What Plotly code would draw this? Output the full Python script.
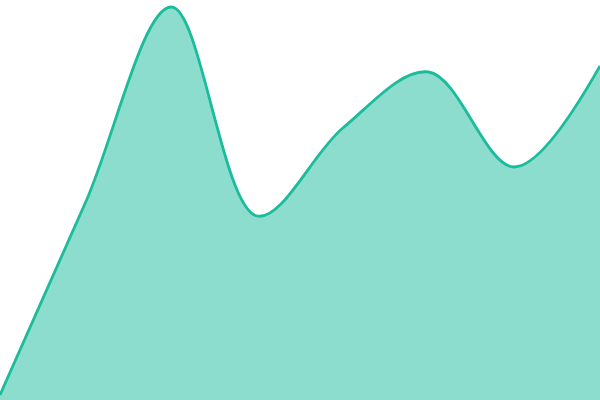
import plotly.graph_objects as go

x_vals = [0, 1, 2, 3, 4, 5, 6, 7]
y_vals = [5, 198, 393, 184, 272, 328, 233, 334]

fig = go.Figure()
fig.add_trace(go.Scatter(
    x=x_vals, y=y_vals, mode="lines",
    line=dict(color="#1abc9c", width=2.8, shape="spline", smoothing=1),
    fill="tozeroy", fillcolor="rgba(26,188,156,0.5)",
    hoverinfo="skip",
))
fig.update_layout(
    width=600, height=400,
    margin=dict(l=0, r=0, t=0, b=0),
    paper_bgcolor="white", plot_bgcolor="white",
    showlegend=False,
    xaxis=dict(visible=False, range=[0, 7], fixedrange=True),
    yaxis=dict(visible=False, range=[0, 400], fixedrange=True),
)
fig.write_html(
    "out.html",
    config={"displayModeBar": False},
    post_script="document.body.style.margin='0';document.body.style.overflow='hidden';",
)
